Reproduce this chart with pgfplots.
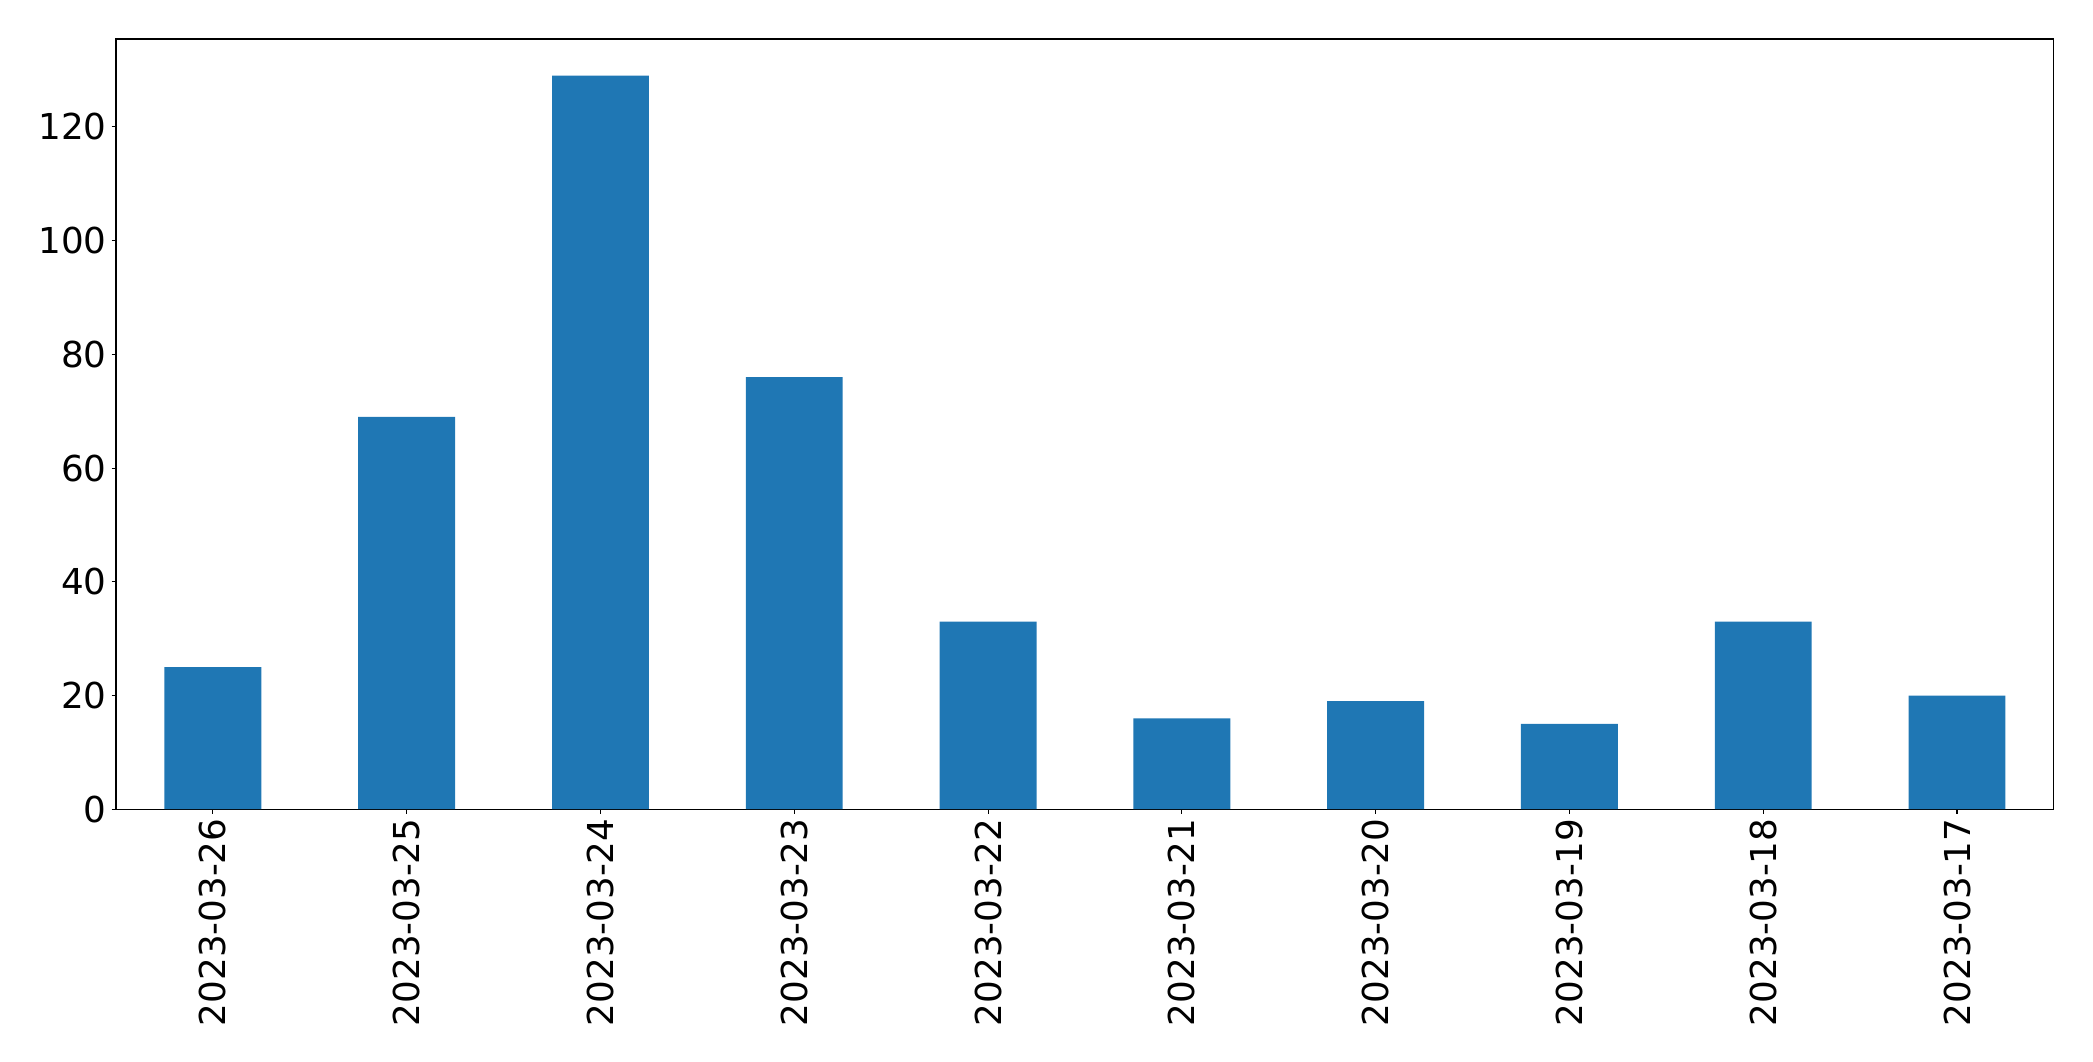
\documentclass[border=0pt]{standalone}
\usepackage{pgfplots}
\pgfplotsset{compat=1.18}
\usepackage{fontspec}
\setmainfont{DejaVu Sans}
\definecolor{mplblue}{HTML}{1F77B4}
\begin{document}
\begin{tikzpicture}
  \path (-83.5pt,-181.4pt) rectangle (1423.1pt,582.5pt);
  \begin{axis}[
      at={(0,0)}, anchor=south west,
      scale only axis,
      width=1395pt, height=554.4pt,
      xmin=-0.5, xmax=9.5,
      ymin=0, ymax=135.45,
      axis line style={line width=0.8pt},
      tick style={line width=0.8pt, black},
      tick align=outside,
      major tick length=3.2pt,
      xtick={0,...,9},
      xticklabels={2023-03-26,2023-03-25,2023-03-24,2023-03-23,2023-03-22,2023-03-21,2023-03-20,2023-03-19,2023-03-18,2023-03-17},
      ytick={0,20,40,60,80,100,120},
      x tick label style={rotate=90, anchor=east},
      ticklabel style={font=\fontsize{25.7}{30}\selectfont},
      /pgf/number format/assume math mode=true,
      xtick pos=bottom, ytick pos=left,
    ]
    \addplot[ybar, bar width=0.5, fill=mplblue, draw=none] coordinates {
        (0,25) (1,69) (2,129) (3,76) (4,33)
        (5,16) (6,19) (7,15) (8,33) (9,20)
      };
  \end{axis}
\end{tikzpicture}
\end{document}
